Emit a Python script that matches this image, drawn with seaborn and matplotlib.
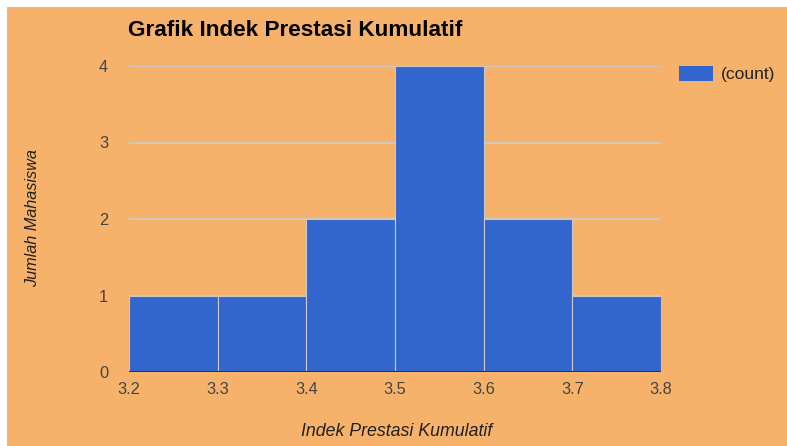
import matplotlib
matplotlib.use("Agg")
import matplotlib.pyplot as plt
from matplotlib.patches import Rectangle, Patch
import seaborn as sns
import pandas as pd

# Data
bin_edges = [3.2, 3.3, 3.4, 3.5, 3.6, 3.7, 3.8]
bin_centers = [3.25, 3.35, 3.45, 3.55, 3.65, 3.75]
counts = [1, 1, 2, 4, 2, 1]
x_ticks = [3.2, 3.3, 3.4, 3.5, 3.6, 3.7, 3.8]
x_tick_labels = ["3.2", "3.3", "3.4", "3.5", "3.6", "3.7", "3.8"]
y_ticks = [0, 1, 2, 3, 4]

title = "Grafik Indek Prestasi Kumulatif"
x_label = "Indek Prestasi Kumulatif"
y_label = "Jumlah Mahasiswa"
legend_label = "(count)"

BG = "#F6B26B"
BAR = "#3366CC"

sns.set_theme(style="white")
plt.rcParams["font.family"] = ["Liberation Sans", "DejaVu Sans"]

W, H = 787, 446
fig = plt.figure(figsize=(W / 100, H / 100), dpi=100, facecolor="white")
fig.patches.append(Rectangle((7 / W, 0), 1 - 7 / W, 1 - 7 / H, transform=fig.transFigure,
                             facecolor=BG, edgecolor="none", zorder=-10))

ax = fig.add_axes([129 / W, 1 - 372 / H, (661 - 129) / W, (372 - 66) / H])
ax.set_facecolor("none")

df = pd.DataFrame({"ipk": bin_centers, "n": counts})
sns.histplot(data=df, x="ipk", weights="n", bins=bin_edges, ax=ax,
             color=BAR, alpha=1.0, edgecolor="#c8c8c8", linewidth=0.8, zorder=3)

ax.set_xlim(3.2, 3.8)
ax.set_ylim(0, 4)
ax.set_yticks(y_ticks)
ax.set_xticks(x_ticks)
ax.set_xticklabels(x_tick_labels)
for y in y_ticks[1:]:
    ax.axhline(y, color="#cccccc", linewidth=1.2, zorder=1)
ax.axhline(0, color="#333333", linewidth=1.5, zorder=4)

for s in ax.spines.values():
    s.set_visible(False)
ax.tick_params(axis="both", length=0, labelsize=11.8, labelcolor="#444444")
ax.tick_params(axis="y", pad=15)
ax.tick_params(axis="x", pad=7)

ax.set_xlabel("")
ax.set_ylabel("")
fig.text(397 / W, 1 - 431 / H, x_label, ha="center", va="center",
         fontsize=12.8, style="italic", color="#222222")
fig.text(33 / W, 1 - 218 / H, y_label, ha="center", va="center", rotation=90,
         fontsize=11.7, style="italic", color="#222222")

fig.text(128 / W, 1 - 31 / H, title, ha="left", va="center",
         fontsize=16.2, fontweight="bold", color="black")

handles = [Patch(facecolor=BAR, edgecolor="none")]
fig.legend(handles, [legend_label], loc="center left",
           bbox_to_anchor=(679 / W, 1 - 74 / H), frameon=False,
           fontsize=12.5, labelcolor="#222222", handlelength=1.95, handleheight=1.0,
           handletextpad=0.45, borderaxespad=0, borderpad=0)

fig.savefig("out.png", dpi=100, facecolor=fig.get_facecolor())
